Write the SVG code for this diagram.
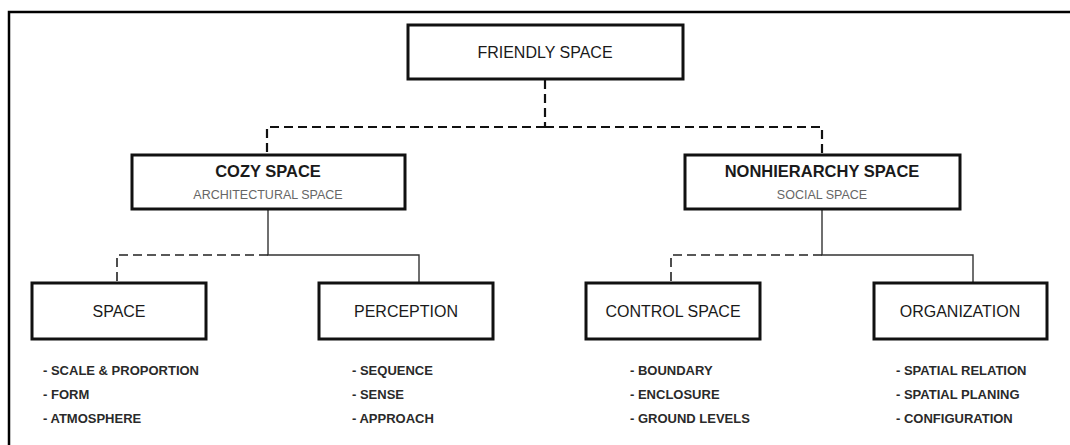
<svg xmlns="http://www.w3.org/2000/svg" width="1070" height="445" viewBox="0 0 1070 445">
<style>
.box{fill:#fff;stroke:#111;stroke-width:3}
.t{font-family:"Liberation Sans",Arial,sans-serif;fill:#1a1a1a;text-anchor:middle}
.main{font-size:16px}
.bold{font-size:16.5px;font-weight:bold}
.sub{font-size:12.5px;fill:#666}
.li{font-family:"Liberation Sans",Arial,sans-serif;font-size:13px;font-weight:bold;fill:#2a2a2a}
.dash1{fill:none;stroke:#111;stroke-width:2.2;stroke-dasharray:9 5}
.dash2{fill:none;stroke:#222;stroke-width:1.6;stroke-dasharray:9 5}
.solid{fill:none;stroke:#333;stroke-width:1.4}
</style>
<rect width="1070" height="445" fill="#fff"/>
<path d="M9,445 V12 H1070" fill="none" stroke="#000" stroke-width="2.5"/>
<g id="connectors">
<path class="dash1" d="M545,80 V127" stroke-dasharray="12 6"/>
<path class="dash1" d="M545,127 H267 V155"/>
<path class="dash1" d="M545,127 H822 V155"/>
<path class="solid" d="M268,209 V255 H419 V283"/>
<path class="dash2" d="M268,255 H117 V283"/>
<path class="solid" d="M822,209 V255 H973 V283"/>
<path class="dash2" d="M822,255 H671 V283"/>
</g>
<g id="friendly">
<rect class="box" x="408" y="25" width="275" height="54"/>
<text class="t main" x="545" y="58">FRIENDLY SPACE</text>
</g>
<g id="cozy">
<rect class="box" x="132" y="155" width="273" height="54"/>
<text class="t bold" x="268" y="177">COZY SPACE</text>
<text class="t sub" x="268" y="199">ARCHITECTURAL SPACE</text>
</g>
<g id="nonhierarchy">
<rect class="box" x="685" y="155" width="275" height="54"/>
<text class="t bold" x="822" y="177">NONHIERARCHY SPACE</text>
<text class="t sub" x="822" y="199">SOCIAL SPACE</text>
</g>
<g id="space">
<rect class="box" x="32" y="283" width="174" height="56"/>
<text class="t main" x="119" y="317" font-size="16.5">SPACE</text>
<text class="li" x="43" y="375">- SCALE &amp; PROPORTION</text>
<text class="li" x="43" y="399">- FORM</text>
<text class="li" x="43" y="423">- ATMOSPHERE</text>
</g>
<g id="perception">
<rect class="box" x="319" y="283" width="174" height="56"/>
<text class="t main" x="406" y="317" font-size="16.5">PERCEPTION</text>
<text class="li" x="352" y="375">- SEQUENCE</text>
<text class="li" x="352" y="399">- SENSE</text>
<text class="li" x="352" y="423">- APPROACH</text>
</g>
<g id="control">
<rect class="box" x="586" y="283" width="174" height="56"/>
<text class="t main" x="673" y="317" font-size="16.5">CONTROL SPACE</text>
<text class="li" x="630" y="375">- BOUNDARY</text>
<text class="li" x="630" y="399">- ENCLOSURE</text>
<text class="li" x="630" y="423">- GROUND LEVELS</text>
</g>
<g id="organization">
<rect class="box" x="874" y="283" width="173" height="56"/>
<text class="t main" x="960" y="317" font-size="16.5">ORGANIZATION</text>
<text class="li" x="896" y="375">- SPATIAL RELATION</text>
<text class="li" x="896" y="399">- SPATIAL PLANING</text>
<text class="li" x="896" y="423">- CONFIGURATION</text>
</g>
</svg>
